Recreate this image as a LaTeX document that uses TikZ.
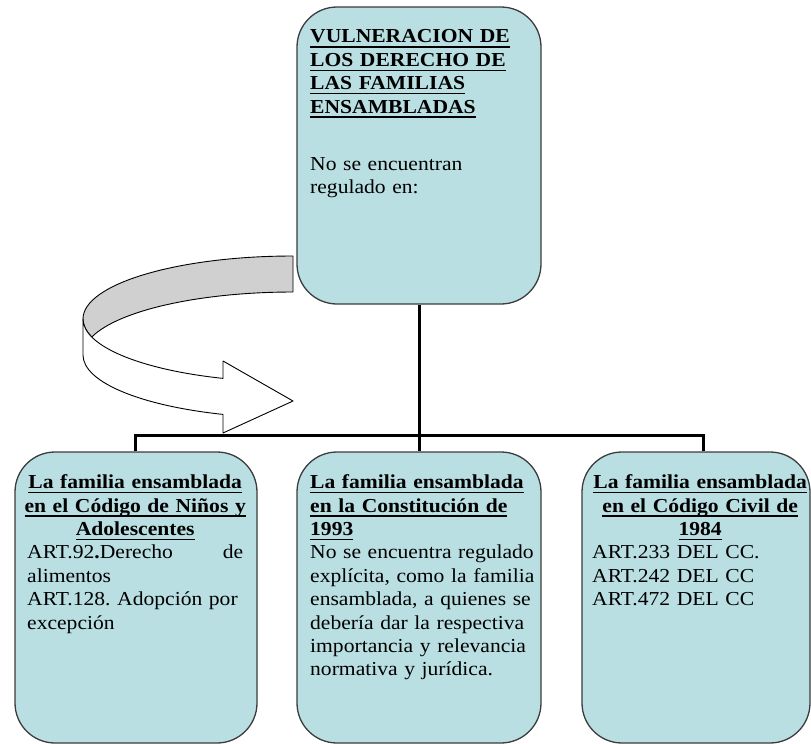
\documentclass[tikz,border=0pt]{standalone}
\usepackage{fontspec}
\setmainfont{Liberation Serif}[FakeStretch=1.09]
\usetikzlibrary{calc}
\definecolor{boxfill}{RGB}{185,223,227}
\definecolor{boxline}{RGB}{60,60,60}
\definecolor{bandgray}{RGB}{208,208,208}
\setlength\parindent{0pt}
\frenchspacing
\newsavebox\ulbox
\newcommand\ulx[1]{\sbox\ulbox{\textbf{#1}}\leavevmode\rlap{\rule[-4.8pt]{\wd\ulbox}{1.5pt}}\usebox\ulbox}
\begin{document}
\begin{tikzpicture}[x=1pt,y=-1pt,
  box/.style={draw=boxline, line width=1.3pt, fill=boxfill, rounded corners=40pt, inner sep=0pt},
  wire/.style={line width=3pt, black, line join=miter},
  txt/.style={anchor=north west, inner sep=0pt, font=\fontsize{19.8}{23.4}\selectfont},
  band/.style={draw=black, line width=0.9pt, line join=round}]
\useasboundingbox (0,0) rectangle (811,744);

% boxes
\node[box, minimum width=244pt, minimum height=297pt] (top) at (419,155.5) {};
\node[box, minimum width=242pt, minimum height=291pt] (lbox) at (136,597.5) {};
\node[box, minimum width=244pt, minimum height=291pt] (cbox) at (419,597.5) {};
\node[box, minimum width=228pt, minimum height=291pt] (rbox) at (696,597.5) {};

% connectors
\coordinate (busL) at (135,435);
\coordinate (busR) at (703,435);
\coordinate (busC) at (top.south |- busL);
\draw[wire] (top.south) -- (busC);
\draw[wire] (busL |- lbox.north) -- (busL) -- (busR) -- (busR |- rbox.north);
\draw[wire] (busC) -- (cbox.north);

% curved arrow (back band)
\path[band, fill=bandgray] (293,256)
  arc[start angle=-90, end angle=-180, x radius=210, y radius=63]
  arc[start angle=180, end angle=163.2, x radius=210, y radius=63]
  -- (92,336.8)
  arc[start angle=196.8, end angle=270, x radius=210, y radius=63]
  -- cycle;
% front band with head
\path[band, fill=white] (83,319)
  arc[start angle=180, end angle=109.47, x radius=210, y radius=63]
  -- (223,361) -- (293,401) -- (223,433) -- (223,414.4)
  arc[start angle=109.47, end angle=180, x radius=210, y radius=63]
  -- cycle;

% texts
\node[txt, text width=230pt] (toptxt) at (310,29.5) {\ulx{VULNERACION DE}\\
\ulx{LOS DERECHO DE}\\
\ulx{LAS FAMILIAS}\\
\ulx{ENSAMBLADAS}\\[34pt]
No se encuentran\\
regulado en:};

\node[txt, text width=216pt] (ltxt) at (27,474.5) {\makebox[216pt][c]{\ulx{La familia ensamblada}}\\
\makebox[216pt][c]{\ulx{en el Código de Niños y}}\\
\makebox[216pt][c]{\ulx{Adolescentes}}\\
\makebox[216pt][s]{ART.92\textbf{.}Derecho\hfill de}\\
alimentos\\
\makebox[216pt][s]{ART.128. Adopción por}\\
excepción};

\node[txt, text width=217pt] (ctxt) at (310,474.5) {\ulx{La familia ensamblada}\\
\ulx{en la Constitución de}\\
\ulx{1993}\\
\makebox[217pt][s]{No se encuentra regulado}\\
\makebox[217pt][s]{explícita, como la familia}\\
\makebox[217pt][s]{ensamblada, a quienes se}\\
\makebox[217pt][s]{debería dar la respectiva}\\
\makebox[217pt][s]{importancia y relevancia}\\
normativa y jurídica.};

\node[txt, text width=216pt] (rtxt) at (592,474.5) {\makebox[216pt][c]{\ulx{La familia ensamblada}}\\
\makebox[216pt][c]{\ulx{en el Código Civil de}}\\
\makebox[216pt][c]{\ulx{1984}}\\
ART.233 DEL CC.\\
ART.242 DEL CC\\
ART.472 DEL CC};
\end{tikzpicture}
\end{document}
